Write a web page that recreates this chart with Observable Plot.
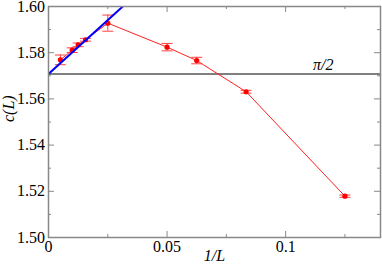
<!DOCTYPE html>
<html><head><meta charset="utf-8">
<script src="https://cdn.jsdelivr.net/npm/d3@7"></script>
<script src="https://cdn.jsdelivr.net/npm/@observablehq/plot@0.6"></script>
<style>
body{margin:0;background:#fff;}
svg text, svg tspan { font-family: "Liberation Serif", "Times New Roman", serif !important; }
</style>
</head><body><div id="chart"></div>
<script>
const invL = [0.005, 0.01, 0.0125, 0.015625, 0.025, 0.05, 0.0625, 0.083333, 0.125];
const cL = [1.5769, 1.5811, 1.5834, 1.5856, 1.5928, 1.5824, 1.5766, 1.5631, 1.5179];
const errs = [0.0021, 0.0010, 0.0008, 0.0006, 0.0035, 0.0016, 0.0014, 0.0006, 0.0005];
const fitX = [0, 0.0313];
const fitY = [1.5708, 1.6000];
const piHalf = 1.5708;
const xMajor = [0, 0.05, 0.1];
const xMinor = [0.025, 0.075, 0.125];
const yMajor = [1.50, 1.52, 1.54, 1.56, 1.58, 1.60];
const yMinor = [1.51, 1.53, 1.55, 1.57, 1.59];

const rows = invL.map((x, i) => ({x, y: cL[i], lo: cL[i] - errs[i], hi: cL[i] + errs[i]}));
const fit = fitX.map((x, i) => ({x, y: fitY[i]}));

const W = 382, H = 268, mL = 48, mR = 2, mT = 6, mB = 31;
const pw = W - mL - mR, ph = H - mT - mB;
const cap = {draw(ctx) { ctx.moveTo(-5.5, 0); ctx.lineTo(5.5, 0); }};
const frameCol = "#888";
const serif = "Liberation Serif, Times New Roman, serif";

const chart = Plot.plot({
  width: W, height: H,
  marginLeft: mL, marginRight: mR, marginTop: mT, marginBottom: mB,
  style: {fontFamily: serif, fontSize: "16px", background: "#fff", color: "#000"},
  x: {domain: [0, 0.14]},
  y: {domain: [1.50, 1.60]},
  marks: [
    Plot.axisX(xMajor, {tickSize: 0, tickPadding: 3, tickFormat: d => String(d), label: null, fontFamily: serif, fontSize: 16}),
    Plot.axisY(yMajor, {tickSize: 0, tickPadding: 3.5, tickFormat: d3.format(".2f"), label: null, fontFamily: serif, fontSize: 16}),
    // inward ticks
    Plot.tickX(xMajor, {x: d => d, insetTop: ph - 6, stroke: frameCol}),
    Plot.tickX(xMajor, {x: d => d, insetBottom: ph - 6, stroke: frameCol}),
    Plot.tickX(xMinor, {x: d => d, insetTop: ph - 3, stroke: frameCol}),
    Plot.tickX(xMinor, {x: d => d, insetBottom: ph - 3, stroke: frameCol}),
    Plot.tickY(yMajor, {y: d => d, insetRight: pw - 6, stroke: frameCol}),
    Plot.tickY(yMajor, {y: d => d, insetLeft: pw - 6, stroke: frameCol}),
    Plot.tickY(yMinor, {y: d => d, insetRight: pw - 3, stroke: frameCol}),
    Plot.tickY(yMinor, {y: d => d, insetLeft: pw - 3, stroke: frameCol}),
    Plot.ruleY([piHalf], {stroke: "#555", strokeWidth: 1.6}),
    Plot.line(rows, {x: "x", y: "y", stroke: "#ff2020", strokeWidth: 1}),
    Plot.ruleX(rows, {x: "x", y1: "lo", y2: "hi", stroke: "#ff4040", strokeWidth: 1}),
    Plot.dot(rows, {x: "x", y: "lo", symbol: cap, r: 3, stroke: "#ff4040", fill: "none", strokeWidth: 1}),
    Plot.dot(rows, {x: "x", y: "hi", symbol: cap, r: 3, stroke: "#ff4040", fill: "none", strokeWidth: 1}),
    Plot.dot(rows, {x: "x", y: "y", r: 2.6, fill: "#ff0000", stroke: null}),
    Plot.line(fit, {x: "x", y: "y", stroke: "#0000ff", strokeWidth: 2, clip: true}),
    Plot.frame({stroke: frameCol, strokeWidth: 1.5}),
    Plot.text(["π/2"], {frameAnchor: "right", y: piHalf, dx: -47, dy: -9, fontStyle: "italic", fontSize: 16, fontFamily: serif}),
    Plot.text(["1/L"], {frameAnchor: "bottom", dy: 23, fontStyle: "italic", fontSize: 16, fontFamily: serif}),
    Plot.text(["c(L)"], {frameAnchor: "left", dx: -40, rotate: -90, fontStyle: "italic", fontSize: 16, fontFamily: serif})
  ]
});
document.getElementById("chart").appendChild(chart);
</script>
</body></html>
